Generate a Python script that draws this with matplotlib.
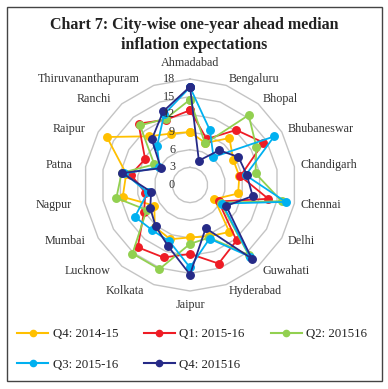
import numpy as np
import matplotlib
matplotlib.use("Agg")
import matplotlib.pyplot as plt
from matplotlib.lines import Line2D
from matplotlib.patches import Rectangle
from matplotlib.transforms import offset_copy

cities = ["Ahmadabad", "Bengaluru", "Bhopal", "Bhubaneswar", "Chandigarh", "Chennai",
          "Delhi", "Guwahati", "Hyderabad", "Jaipur", "Kolkata", "Lucknow", "Mumbai",
          "Nagpur", "Patna", "Raipur", "Ranchi", "Thiruvananthapuram"]

q4_1415 = [9.0, 7.6, 10.4, 8.5, 8.5, 8.3, 4.8, 10.4, 9.3, 8.9, 9.8, 9.3, 7.0, 11.6, 11.0, 16.3, 10.8, 9.3]
q1_1516 = [12.7, 8.3, 12.2, 14.4, 8.7, 13.5, 5.6, 12.3, 14.2, 11.7, 13.1, 13.8, 9.0, 7.7, 10.2, 8.8, 13.6, 11.8]
q2_1516 = [14.5, 7.5, 15.5, 13.0, 11.3, 15.8, 6.0, 15.5, 9.5, 10.0, 15.2, 15.2, 8.5, 12.7, 11.8, 7.0, 13.2, 12.0]
q3_1516 = [16.6, 9.9, 6.2, 16.5, 9.6, 16.5, 6.3, 15.9, 9.7, 14.0, 10.2, 10.0, 10.8, 7.3, 11.3, 6.0, 8.7, 12.8]
q4_1516 = [16.7, 4.4, 7.7, 9.5, 9.8, 10.8, 7.1, 16.3, 7.8, 15.2, 11.0, 9.1, 7.8, 6.7, 11.7, 5.7, 10.1, 13.3]

series_names = ["Q4: 2014-15", "Q1: 2015-16", "Q2: 201516", "Q3: 2015-16", "Q4: 201516"]
series_vals = [q4_1415, q1_1516, q2_1516, q3_1516, q4_1516]
colors = ["#FFC000", "#EE1C25", "#92D050", "#00B0F0", "#262A87"]

r_ticks = [0, 3, 6, 9, 12, 15, 18]

serif = ["Liberation Serif", "DejaVu Serif"]
plt.rcParams["font.family"] = serif

W, H = 388, 389
fig = plt.figure(figsize=(W / 100, H / 100), dpi=100)
fig.patch.set_facecolor("white")

cx, cy, R = 190, 185, 106
ax = fig.add_axes([(cx - R) / W, (H - cy - R) / H, 2 * R / W, 2 * R / H], projection="polar")
ax.set_theta_offset(np.pi / 2)
ax.set_theta_direction(-1)
ax.set_ylim(0, 18)
ax.grid(False)
ax.spines["polar"].set_visible(False)
ax.set_xticks([])
ax.set_yticks([])
ax.patch.set_alpha(0)

n = len(cities)
theta = np.arange(n) * 2 * np.pi / n
theta_c = np.append(theta, theta[0])

# polygon gridlines
for rv in r_ticks[1:]:
    ax.plot(theta_c, [rv] * (n + 1), color="#C4C4C4", lw=1.0, zorder=1, clip_on=False)

# series
for vals, col in zip(series_vals, colors):
    v = np.append(vals, vals[0])
    ax.plot(theta_c, v, color=col, lw=1.3, marker="o", markersize=5.4,
            markeredgecolor=col, markerfacecolor=col, zorder=3, clip_on=False)

# radial labels
tr = offset_copy(ax.transData, fig=fig, x=-15, y=0, units="dots")
for rv in r_ticks:
    ax.text(0, rv, str(rv), transform=tr, ha="right", va="center",
            fontsize=8.7, color="#333333", zorder=4)

# category labels
for i, (t, name) in enumerate(zip(theta, cities)):
    deg = np.degrees(t) % 360
    if deg == 0:
        ax.text(t, 20.8, name, ha="center", va="center", fontsize=8.7, color="#333333")
    elif abs(deg - 180) < 1e-6:
        ax.text(t, 20.4, name, ha="center", va="center", fontsize=8.7, color="#333333")
    elif deg < 180:
        ax.text(t, 19.1, name, ha="left", va="center", fontsize=8.7, color="#333333")
    else:
        dx = -12 if deg > 330 else -7
        trl = offset_copy(ax.transData, fig=fig, x=dx, y=0, units="dots")
        ax.text(t, 19.1, name, transform=trl, ha="right", va="center",
                fontsize=8.7, color="#333333")

# title
fig.text(0.5, 1 - 25 / H, "Chart 7: City-wise one-year ahead median", ha="center",
         va="center", fontsize=11.5, fontweight="bold", color="#222222")
fig.text(0.5, 1 - 45 / H, "inflation expectations", ha="center",
         va="center", fontsize=11.5, fontweight="bold", color="#222222")

# legend
handles = [Line2D([0], [0], color=c, lw=1.5, marker="o", markersize=4.5,
                  markerfacecolor=c, markeredgecolor=c) for c in colors]
order = [0, 3, 1, 4, 2]
leg = fig.legend([handles[i] for i in order], [series_names[i] for i in order],
                 ncol=3, loc="upper left", bbox_to_anchor=(17 / W, 1 - 328 / H),
                 frameon=False, borderpad=0, borderaxespad=0, fontsize=9.3,
                 handlelength=2.4, handletextpad=0.35, columnspacing=2.0,
                 labelspacing=1.45)
for t in leg.get_texts():
    t.set_color("#222222")

# border
fig.add_artist(Rectangle((7 / W, 1 - 381 / H), 375 / W, 374 / H, transform=fig.transFigure,
                         fill=False, ec="#444444", lw=1.0))

fig.savefig("out.png", dpi=100, facecolor="white")
